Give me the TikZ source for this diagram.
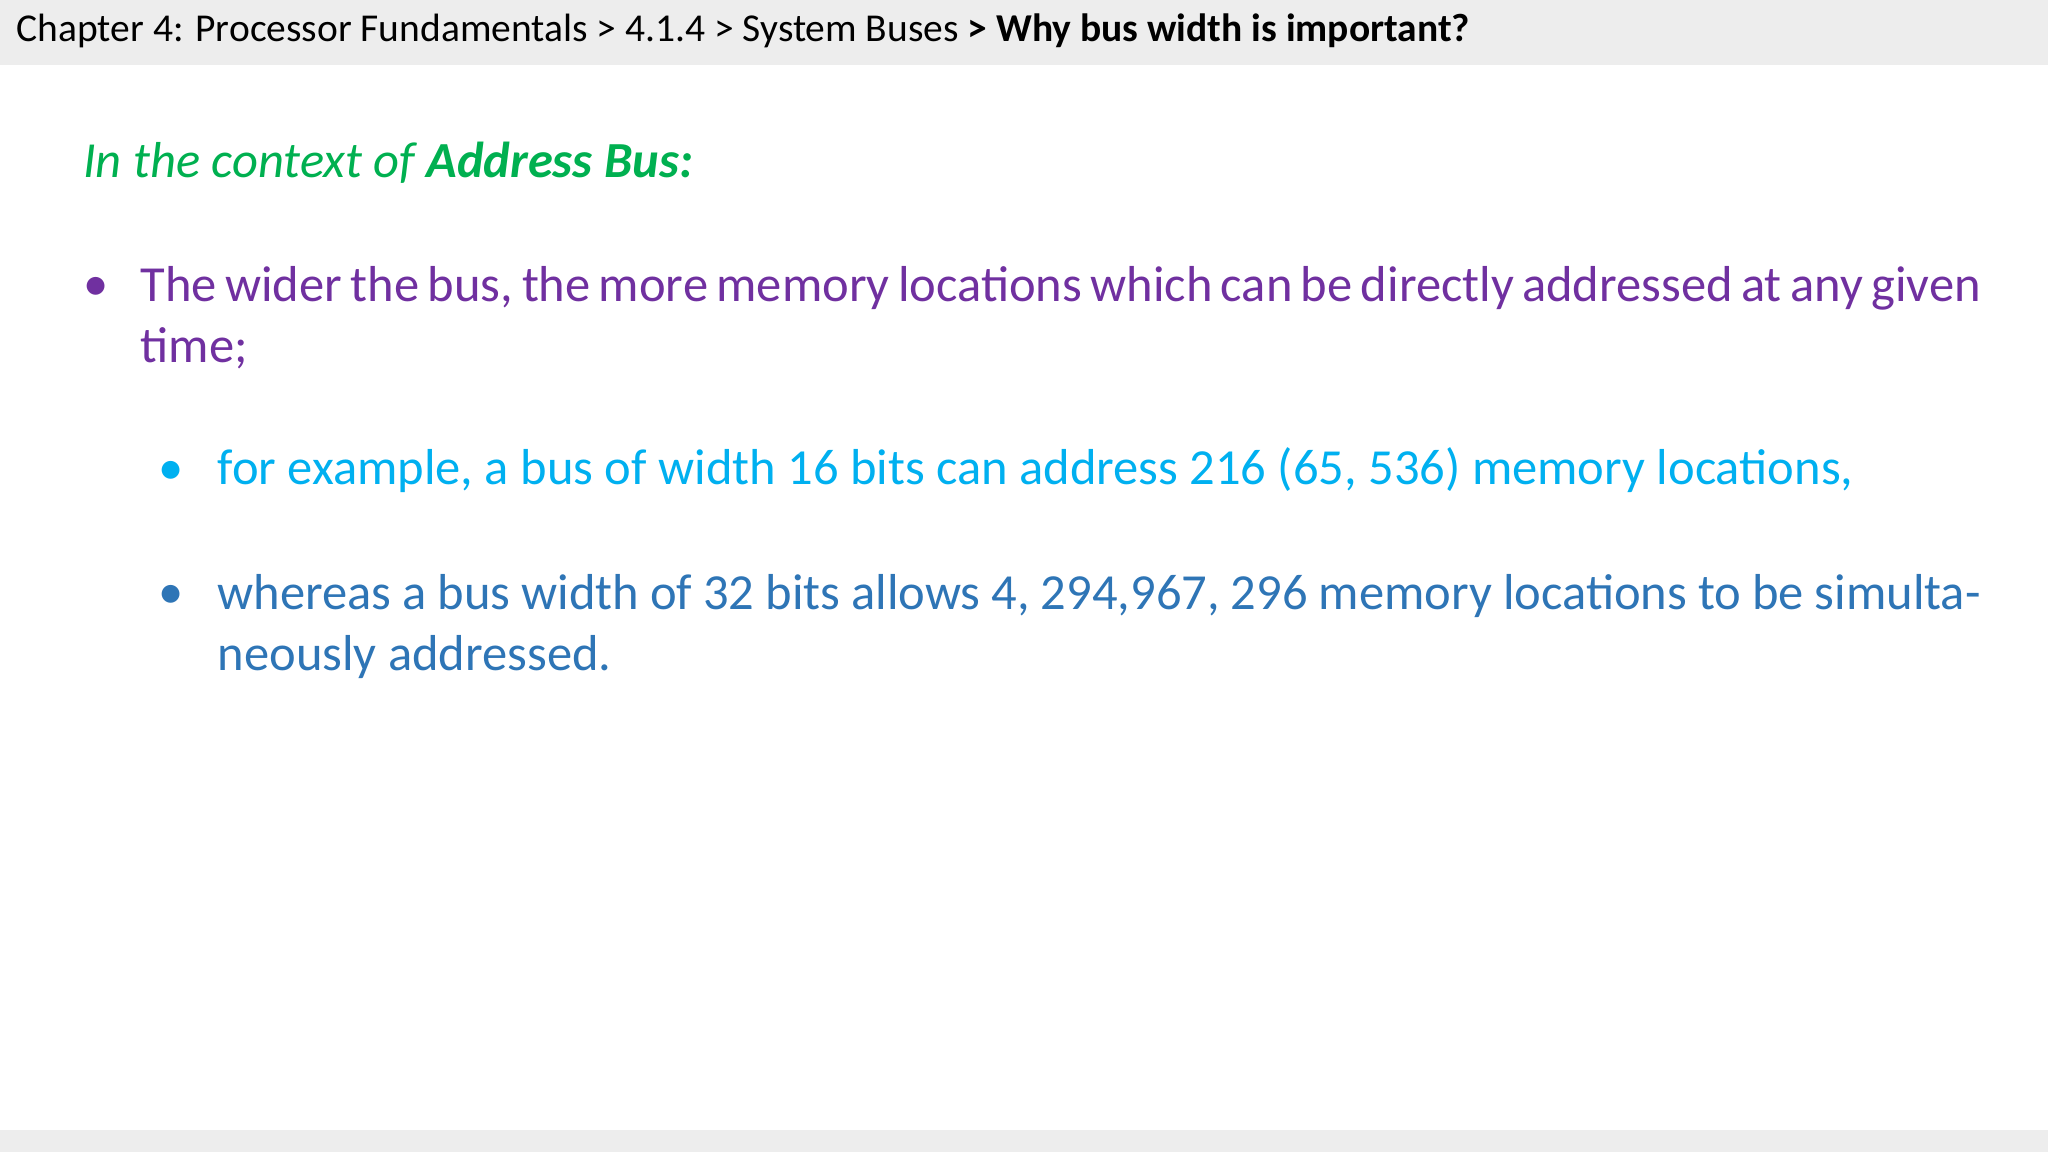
\documentclass[tikz,border=0pt]{standalone}
\usepackage{fontspec}
\setmainfont{Carlito}
\definecolor{hdr}{HTML}{EDEDED}
\definecolor{grn}{HTML}{00B050}
\definecolor{pur}{HTML}{7030A0}
\definecolor{cya}{HTML}{00B0F0}
\definecolor{blu}{HTML}{2E75B6}
\begin{document}
\begin{tikzpicture}[x=0.01cm,y=-0.01cm,
  txt/.style={inner sep=0pt,font=\fontsize{11}{13.3}\selectfont},
  par/.style={txt,anchor=north west,align=justify}]
\useasboundingbox (0,0) rectangle (1568,882);
\fill[white] (0,0) rectangle (1568,882);
\fill[hdr] (0,0) rectangle (1568,50);
\fill[hdr] (0,865) rectangle (1568,882);
\node[inner sep=0pt,anchor=base west,font=\fontsize{8.6}{10}\selectfont] (h) at (12,32)
  {Chapter 4: Processor Fundamentals > 4.1.4 > System Buses \textbf{> Why bus width is important?}};
\node[txt,anchor=base west,text=grn] (t) at (63,136) {\itshape In the context of \textbf{Address Bus:}};
\node[txt,anchor=base west,text=pur] (b1) at (63,230) {•};
\node[par,text=pur,text width=14.08cm] (p1) at (107,203)
  {The wider the bus, the more memory locations which can be directly addressed at any given time;};
\node[txt,anchor=base west,text=cya] (b2) at (121,371) {•};
\node[txt,anchor=base west,text=cya] (p2) at (166,371)
  {for example, a bus of width 16 bits can address 216 (65, 536) memory locations,};
\node[txt,anchor=base west,text=blu] (b3) at (121,466) {•};
\node[par,text=blu,text width=13.49cm] (p3) at (166,439)
  {whereas a bus width of 32 bits allows 4, 294,967, 296 memory locations to be simultaneously addressed.};
\end{tikzpicture}
\end{document}
